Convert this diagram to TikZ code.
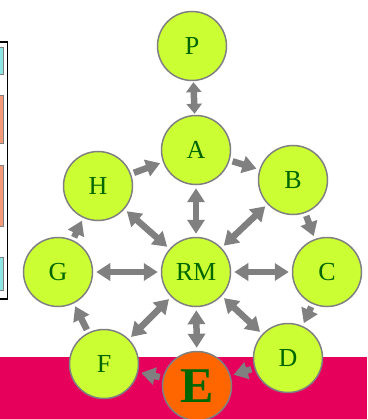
\documentclass[tikz,border=0pt]{standalone}
\usepackage{fontspec}
\setmainfont{Liberation Serif}
\usetikzlibrary{arrows.meta}
\definecolor{nodefill}{HTML}{CCFF33}
\definecolor{nodetext}{HTML}{006600}
\definecolor{bandpink}{HTML}{E6005C}
\definecolor{efill}{HTML}{FF6600}
\definecolor{tabcyan}{HTML}{8CE6E6}
\definecolor{taborange}{HTML}{F59A78}

\begin{document}
\begin{tikzpicture}[x=1pt,y=-1pt,
    role/.style={circle,draw=gray,line width=1.5pt,fill=nodefill,text=nodetext,
      minimum size=69pt,inner sep=0pt,font=\fontsize{26}{26}\selectfont},
    link/.style={draw=gray,line width=6.5pt,shorten >=3pt,shorten <=3pt,
      -{Triangle[length=14pt,width=17pt]}},
    both/.style={link,{Triangle[length=14pt,width=17pt]}-{Triangle[length=14pt,width=17pt]}},
    shortboth/.style={link,shorten >=1pt,shorten <=1pt,
      {Triangle[length=10pt,width=15pt]}-{Triangle[length=10pt,width=15pt]}}]
    \useasboundingbox (0,0) rectangle (367,419);

    % left panel, mostly cut off
    \draw[black,line width=1.5pt] (-30,42) rectangle (7.5,299);
    \draw[gray,fill=tabcyan] (-20,47) rectangle (3.5,74);
    \draw[gray,fill=taborange] (-20,95) rectangle (3.5,143);
    \draw[gray,fill=taborange] (-20,165) rectangle (3.5,226);
    \draw[gray,fill=tabcyan] (-20,257) rectangle (3.5,290);

    % band at the bottom
    \fill[bandpink] (0,357) rectangle (367,419);

    \node[role] (P) at (192,46) {P};
    \node[role] (A) at (196,150) {A};
    \node[role] (B) at (293,180) {B};
    \node[role] (H) at (98,186) {H};
    \node[role] (G) at (58,272) {G};
    \node[role] (RM) at (196,272) {RM};
    \node[role] (C) at (327,272) {C};
    \node[role] (F) at (104,364) {F};
    \node[role,fill=efill,font=\fontsize{50}{50}\selectfont\bfseries] (E) at (197,386) {E};
    \node[role] (D) at (288,358) {D};

    \path
    (P) edge [shortboth] (A)
    (A) edge [both] (RM)
    (RM) edge [both] (H)
    (RM) edge [both] (B)
    (RM) edge [both] (G)
    (RM) edge [both] (C)
    (RM) edge [both] (F)
    (RM) edge [both] (D)
    (RM) edge [both] (E)
    (H) edge [link] (A)
    (A) edge [link] (B)
    (B) edge [link] (C)
    (C) edge [link] (D)
    (D) edge [link] (E)
    (E) edge [link] (F)
    (F) edge [link] (G)
    (G) edge [link] (H);

  \end{tikzpicture}
\end{document}
